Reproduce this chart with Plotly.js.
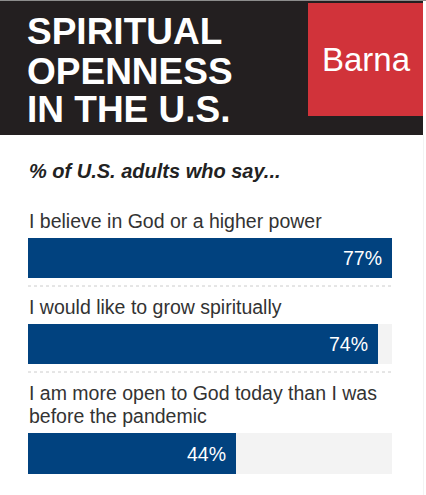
<!DOCTYPE html>
<html>
<head>
<meta charset="utf-8">
<script src="https://cdn.plot.ly/plotly-3.0.1.min.js"></script>
<style>
html,body{margin:0;padding:0;background:#fff;overflow:hidden;}
#chart{width:426px;height:495px;}
</style>
</head>
<body>
<div id="chart"></div>
<script>
// ---- data ----
const titleLines = ['SPIRITUAL', 'OPENNESS', 'IN THE U.S.'];
const brand = 'Barna';
const subtitle = '% of U.S. adults who say...';
const questions = [
  'I believe in God or a higher power',
  'I would like to grow spiritually',
  'I am more open to God today than I was<br>before the pandemic'
];
const values = [77, 74, 44];

// ---- layout helpers (pixel -> paper) ----
const W = 426, H = 495;
const px = x => x / W;
const py = y => 1 - y / H;
const FONT = '"Liberation Sans", Arial, Helvetica, sans-serif';

const barTop = [238, 324, 433];
const barBot = [278, 364, 474];
const titleCenters = [31.5, 71.5, 109.5];
const sepY = [286, 372];

const barColor = '#01427f';
const trackColor = '#f3f3f3';

const traces = [];
const shapes = [];
const annotations = [];
const layout = {
  width: W, height: H, autosize: false,
  margin: {l: 0, r: 0, t: 0, b: 0, pad: 0},
  paper_bgcolor: '#ffffff', plot_bgcolor: 'rgba(0,0,0,0)',
  showlegend: false,
  barmode: 'overlay',
  bargap: 0,
  font: {family: FONT, color: '#333'},
  xaxis: {
    domain: [px(28), px(392)],
    range: [0, Math.max(...values)],
    showgrid: false, zeroline: false, showticklabels: false, ticks: '',
    showline: false, fixedrange: true, anchor: 'y'
  }
};

values.forEach((v, i) => {
  const yk = i === 0 ? 'y' : 'y' + (i + 1);
  const axKey = i === 0 ? 'yaxis' : 'yaxis' + (i + 1);
  layout[axKey] = {
    domain: [py(barBot[i]), py(barTop[i])],
    range: [-0.5, 0.5],
    showgrid: false, zeroline: false, showticklabels: false, ticks: '',
    showline: false, fixedrange: true, anchor: 'x', type: 'category'
  };
  traces.push({
    type: 'bar', orientation: 'h',
    x: [v], y: [questions[i]],
    xaxis: 'x', yaxis: yk,
    marker: {color: barColor, line: {width: 0}},
    width: 1,
    hoverinfo: 'skip'
  });
  // track background
  shapes.push({
    type: 'rect', layer: 'below',
    xref: 'x domain', yref: yk + ' domain',
    x0: 0, x1: 1, y0: 0, y1: 1,
    fillcolor: trackColor, line: {width: 0}
  });
  // question label, one annotation per line for tight line spacing
  const lines = questions[i].split('<br>');
  lines.forEach((ln, k) => {
    const fromBottom = lines.length - 1 - k;
    annotations.push({
      xref: 'paper', yref: yk + ' domain',
      x: px(27), y: 1, xanchor: 'left', yanchor: 'bottom',
      yshift: 4 + 23 * fromBottom, align: 'left', showarrow: false,
      text: ln,
      font: {family: FONT, size: 19.5, color: '#333333'}
    });
  });
  // value label
  annotations.push({
    xref: 'x', yref: yk,
    x: v, y: questions[i], xanchor: 'right', yanchor: 'middle',
    xshift: -8, showarrow: false,
    text: v + '%',
    font: {family: FONT, size: 19.5, color: '#ffffff'}
  });
});

// dotted separators
sepY.forEach(y => {
  shapes.push({
    type: 'line', xref: 'x domain', yref: 'paper',
    x0: 0, x1: 1, y0: py(y), y1: py(y),
    line: {color: '#cccccc', width: 1, dash: 'dot'}
  });
});

// header
shapes.push({type: 'rect', xref: 'paper', yref: 'paper', layer: 'above',
  x0: 0, x1: px(423), y0: py(135), y1: 1,
  fillcolor: '#231f20', line: {width: 0}});
shapes.push({type: 'line', xref: 'paper', yref: 'paper',
  x0: 0, x1: 1, y0: py(0.5), y1: py(0.5),
  line: {color: '#8c8c8c', width: 1}});
shapes.push({type: 'rect', xref: 'paper', yref: 'paper',
  x0: px(308), x1: px(423), y0: py(116), y1: py(3),
  fillcolor: '#d1333a', line: {width: 0}});
// faint right edge line
shapes.push({type: 'line', xref: 'paper', yref: 'paper',
  x0: px(423.5), x1: px(423.5), y0: 0, y1: py(135),
  line: {color: '#f3f3f3', width: 1}});

titleLines.forEach((t, i) => {
  annotations.push({
    xref: 'paper', yref: 'paper',
    x: px(25), y: py(titleCenters[i]), xanchor: 'left', yanchor: 'middle',
    showarrow: false, text: '<b>' + t + '</b>',
    font: {family: FONT, size: 37, color: '#ffffff'}
  });
});
annotations.push({
  xref: 'paper', yref: 'paper',
  x: px(366), y: py(59.5), xanchor: 'center', yanchor: 'middle',
  showarrow: false, text: brand,
  font: {family: FONT, size: 33, color: '#ffffff'}
});
annotations.push({
  xref: 'paper', yref: 'paper',
  x: px(27), y: py(171), xanchor: 'left', yanchor: 'middle',
  showarrow: false, text: '<b><i>' + subtitle + '</i></b>',
  font: {family: FONT, size: 20, color: '#222222'}
});

layout.shapes = shapes;
layout.annotations = annotations;

Plotly.newPlot('chart', traces, layout, {displayModeBar: false, staticPlot: true});
</script>
</body>
</html>
